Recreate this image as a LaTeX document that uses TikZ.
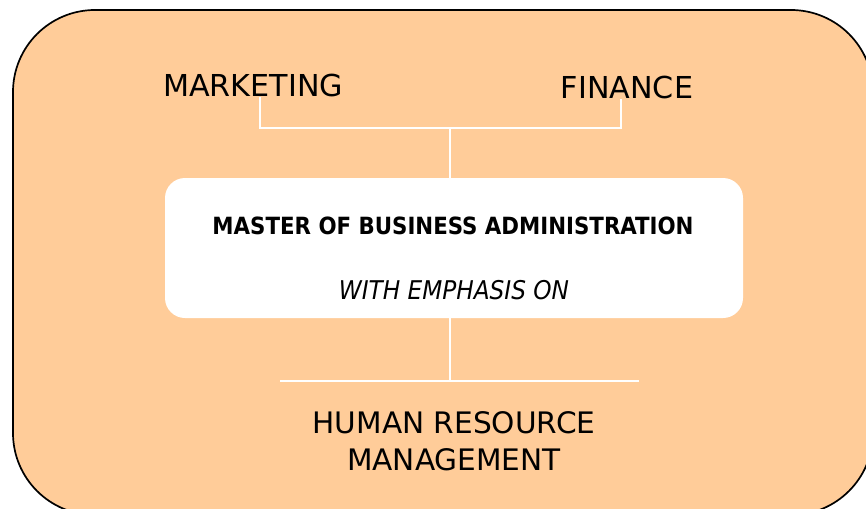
\documentclass[tikz,border=0pt]{standalone}
\usepackage{fontspec}
\setmainfont{DejaVu Sans}
\newfontfamily\condfont{DejaVu Sans Condensed}
\definecolor{panel}{HTML}{FFCC99}
\begin{document}
\begin{tikzpicture}[x=1pt,y=-1pt,
  wire/.style={draw=white,line width=2pt},
  label/.style={inner sep=0pt,font=\fontsize{30.2}{37}\selectfont,text=black},
  mbabox/.style={fill=white,rounded corners=20pt,minimum width=578pt,minimum height=140pt,inner sep=0pt}]
\useasboundingbox (0,0) rectangle (866,508);
\clip (0,0) rectangle (866,508);
\draw[fill=panel,line width=1.7pt,rounded corners=82pt] (13,10) rectangle (873,515);
\node[label] (mkt) at (253,86) {MARKETING};
\node[label] (fin) at (627,88) {FINANCE};
\node[mbabox] (mba) at (454,248) {};
\node[inner sep=0pt,font=\condfont\bfseries\fontsize{23.7}{28}\selectfont] (title) at (453,226) {MASTER OF BUSINESS ADMINISTRATION};
\node[inner sep=0pt,font=\condfont\itshape\fontsize{25.8}{30}\selectfont] (emph) at (454,290) {WITH EMPHASIS ON};
\node[label,align=center,font=\fontsize{29.6}{37}\selectfont] (hrm) at (454,441) {HUMAN RESOURCE\\MANAGEMENT};
\coordinate (jt) at (450,128);
\coordinate (jb) at (450,381);
\coordinate (hl) at (280,381);
\coordinate (hr) at (639,381);
\draw[wire] ([xshift=7pt]mkt.base) |- (jt) -| ([xshift=-6pt]fin.base);
\draw[wire] (jt) -- (jt |- mba.north);
\draw[wire] (jb |- mba.south) -- (jb);
\draw[wire] (hl) -- (hr);
\end{tikzpicture}
\end{document}
